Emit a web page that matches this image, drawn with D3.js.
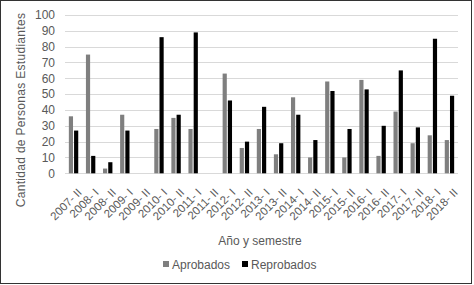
<!DOCTYPE html>
<html>
<head>
  <meta charset='utf-8'>
  <title>Aprobados y Reprobados</title>
  <script src='https://cdn.jsdelivr.net/npm/d3@7'></script>
  <style>
    body { margin: 0; background: #fff; }
    text { font-family: 'Liberation Sans', Arial, sans-serif; fill: #595959; }
  </style>
</head>
<body>
  <script>
    // datos
    const semestres = ['2007- II', '2008- I', '2008- II', '2009- I', '2009- II', '2010- I', '2010- II',
      '2011- I', '2011- II', '2012- I', '2012- II', '2013- I', '2013- II', '2014- I', '2014- II',
      '2015- I', '2015- II', '2016- I', '2016- II', '2017- I', '2017- II', '2018- I', '2018- II'];
    const aprobados = [36, 75, 3, 37, 0, 28, 35, 28, 0, 63, 16, 28, 12, 48, 10, 58, 10, 59, 11, 39, 19, 24, 21];
    const reprobados = [27, 11, 7, 27, 0, 86, 37, 89, 0, 46, 20, 42, 19, 37, 21, 52, 28, 53, 30, 65, 29, 85, 49];
    const series = ['Aprobados', 'Reprobados'];
    const colores = ['#7f7f7f', '#000000'];
    const yTicks = d3.range(0, 101, 10);

    const width = 474, height = 285;
    const margin = { top: 15, right: 16, bottom: 112, left: 65 };

    const svg = d3.select('body').append('svg')
      .attr('width', width)
      .attr('height', height);

    // borde del gráfico
    svg.append('rect')
      .attr('x', 0.5).attr('y', 0.5)
      .attr('width', 471).attr('height', 283)
      .attr('fill', 'none')
      .attr('stroke', '#333');

    const x = d3.scaleBand()
      .domain(semestres)
      .range([margin.left, width - margin.right])
      .paddingInner(0.45)
      .paddingOuter(0.225);

    const xs = d3.scaleBand()
      .domain(series)
      .range([0, x.bandwidth()])
      .paddingInner(0.2);

    const y = d3.scaleLinear()
      .domain([0, 100])
      .range([height - margin.bottom + 0.3, margin.top]);

    // líneas de cuadrícula
    svg.append('g')
      .selectAll('line')
      .data(yTicks)
      .join('line')
      .attr('x1', margin.left)
      .attr('x2', width - margin.right)
      .attr('y1', d => Math.round(y(d)) + 0.5)
      .attr('y2', d => Math.round(y(d)) + 0.5)
      .attr('stroke', '#d9d9d9')
      .attr('stroke-width', 1);

    // eje y
    const yAxis = svg.append('g')
      .attr('transform', `translate(${margin.left - 6},0)`)
      .call(d3.axisLeft(y).tickValues(yTicks).tickSize(0).tickPadding(4));
    yAxis.select('.domain').remove();
    yAxis.selectAll('text')
      .attr('font-size', 12)
      .attr('font-family', null)
      .attr('fill', null);

    // barras
    const datos = semestres.map((s, i) => ({ s, vals: [aprobados[i], reprobados[i]] }));
    svg.append('g')
      .selectAll('g')
      .data(datos)
      .join('g')
      .attr('transform', d => `translate(${x(d.s)},0)`)
      .selectAll('rect')
      .data(d => d.vals.map((v, j) => ({ serie: series[j], v, j })))
      .join('rect')
      .attr('x', d => xs(d.serie))
      .attr('width', xs.bandwidth())
      .attr('y', d => y(d.v))
      .attr('height', d => y(0) - y(d.v))
      .attr('fill', d => colores[d.j]);

    // eje x (etiquetas giradas)
    const xAxis = svg.append('g')
      .attr('transform', `translate(0,${y(0)})`)
      .call(d3.axisBottom(x).tickSize(0).tickPadding(0));
    xAxis.select('.domain').remove();
    xAxis.selectAll('text')
      .attr('font-size', 11.5)
      .attr('font-family', null)
      .attr('fill', null)
      .attr('text-anchor', 'end')
      .attr('dy', null)
      .attr('transform', 'translate(9,20) rotate(-45)');

    // títulos
    svg.append('text')
      .attr('transform', 'translate(25,110) rotate(-90)')
      .attr('text-anchor', 'middle')
      .attr('font-size', 12)
      .attr('letter-spacing', 0.3)
      .text('Cantidad de Personas Estudiantes');

    svg.append('text')
      .attr('x', 260)
      .attr('y', 245)
      .attr('text-anchor', 'middle')
      .attr('font-size', 12)
      .text('Año y semestre');

    // leyenda
    const leyenda = svg.append('g')
      .selectAll('g')
      .data(series)
      .join('g')
      .attr('transform', (d, i) => `translate(${[163, 242][i]},265)`);
    leyenda.append('rect')
      .attr('x', 0).attr('y', -4)
      .attr('width', 6).attr('height', 6)
      .attr('fill', (d, i) => colores[i]);
    leyenda.append('text')
      .attr('x', 9)
      .attr('y', 3.5)
      .attr('font-size', 12)
      .text(d => d);
  </script>
</body>
</html>
